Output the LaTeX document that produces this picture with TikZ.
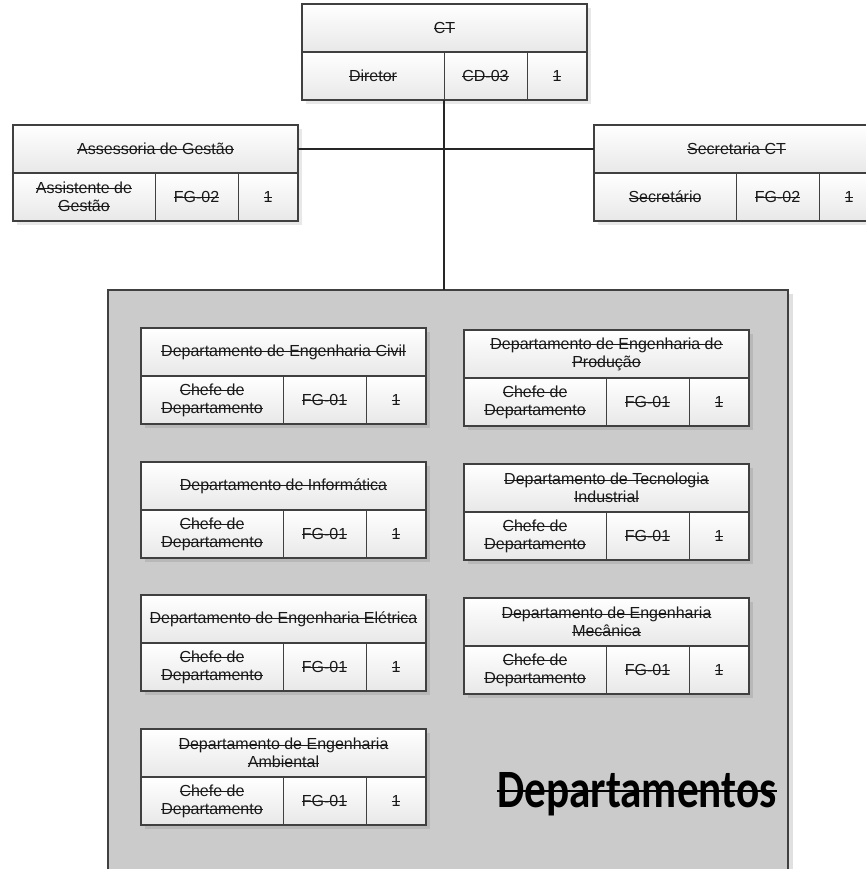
\documentclass[tikz,border=0pt]{standalone}
\usepackage{fontspec}
\usepackage{graphicx}
\setmainfont{Liberation Sans}
\newfontfamily\bigfont{Carlito}
\newsavebox\strkbox
\newcommand\strk[2][0.9pt]{\sbox\strkbox{#2}\rlap{\rule[0.27em]{\wd\strkbox}{#1}}\usebox\strkbox}
\definecolor{linec}{HTML}{404040}
\definecolor{contfill}{HTML}{CBCBCB}
\tikzset{
  boxbase/.style={draw=linec, line width=1pt, top color=white, bottom color=black!9,
    inner sep=0pt, outer sep=0pt, align=center, text=black!90,
    font=\fontsize{16}{18}\selectfont},
  hdr/.style={boxbase, minimum width=285pt, minimum height=48pt},
  cell/.style={boxbase, minimum height=48pt},
  frame/.style={draw=linec, line width=1.6pt},
  sepline/.style={draw=linec, line width=2.6pt},
  boxshadow/.style={fill=black, fill opacity=0.09},
  conn/.style={draw=black!85, line width=1.6pt},
  container/.style={draw=linec, line width=1.4pt, fill=contfill, inner sep=0pt, outer sep=0pt},
}
\newcommand\orgunit[7]{%
  \fill[boxshadow] (#2+4,#3+4) rectangle ++(285,96);
  \node[hdr, anchor=north west] (#1) at (#2,#3) {#4};
  \node[cell, minimum width=142pt, anchor=north west] (#1-r) at (#2,#3+48) {#5};
  \node[cell, minimum width=83pt, anchor=north west] (#1-c) at (#2+142,#3+48) {#6};
  \node[cell, minimum width=60pt, anchor=north west] (#1-q) at (#2+225,#3+48) {#7};
  \draw[frame] (#1-r.south west) rectangle (#1.north east);
  \draw[sepline] (#1.south west) -- (#1.south east);
}
\newcommand\chefe{\strk{Chefe de}\\\strk{Departamento}}
\begin{document}
\begin{tikzpicture}[x=1pt,y=-1pt]
\useasboundingbox (0,0) rectangle (865,869);
\fill[white] (0,0) rectangle (865,869);
% container
\fill[black!12] (112,294) rectangle (793,900);
\node[container, anchor=north west, minimum width=680pt, minimum height=610pt] (dep) at (108,290) {};
% top units
\orgunit{ct}{302}{4}{\strk{CT}}{\strk{Diretor}}{\strk{CD-03}}{\strk{1}}
\orgunit{ass}{13}{125}{\strk{Assessoria de Gestão}}{\strk{Assistente de}\\\strk{Gestão}}{\strk{FG-02}}{\strk{1}}
\orgunit{sec}{594}{125}{\strk{Secretaria CT}}{\strk{Secretário}}{\strk{FG-02}}{\strk{1}}
% connectors
\draw[conn] (ass.east) -- (sec.west);
\draw[conn] (ct-r.south east) -- (ct-r.south east |- dep.north);
% departments, left column
\orgunit{civ}{141}{328}{\strk{Departamento de Engenharia Civil}}{\chefe}{\strk{FG-01}}{\strk{1}}
\orgunit{inf}{141}{462}{\strk{Departamento de Informática}}{\chefe}{\strk{FG-01}}{\strk{1}}
\orgunit{ele}{141}{595}{\strk{Departamento de Engenharia Elétrica}}{\chefe}{\strk{FG-01}}{\strk{1}}
\orgunit{amb}{141}{729}{\strk{Departamento de Engenharia}\\\strk{Ambiental}}{\chefe}{\strk{FG-01}}{\strk{1}}
% departments, right column
\orgunit{pro}{464}{330}{\strk{Departamento de Engenharia de}\\\strk{Produção}}{\chefe}{\strk{FG-01}}{\strk{1}}
\orgunit{tec}{464}{464}{\strk{Departamento de Tecnologia}\\\strk{Industrial}}{\chefe}{\strk{FG-01}}{\strk{1}}
\orgunit{mec}{464}{598}{\strk{Departamento de Engenharia}\\\strk{Mecânica}}{\chefe}{\strk{FG-01}}{\strk{1}}
% title
\node[anchor=base west, inner sep=0pt, text=black] (deptitle) at (497,807)
  {\bigfont\bfseries\fontsize{54}{56}\selectfont\scalebox{0.8}[1]{\strk[2.4pt]{Departamentos}}};
\end{tikzpicture}
\end{document}
